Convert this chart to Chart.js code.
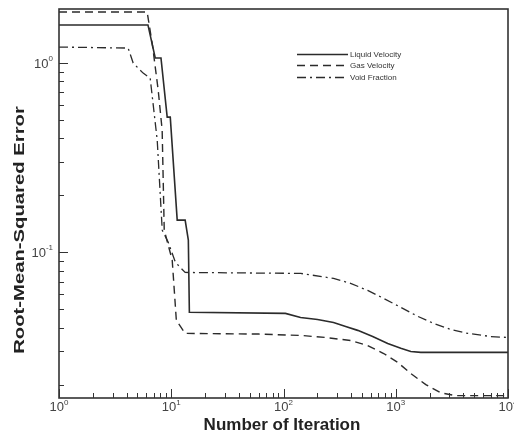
<!DOCTYPE html>
<html>
<head>
<meta charset="utf-8">
<script src="https://cdn.jsdelivr.net/npm/chart.js@4/dist/chart.umd.min.js"></script>
<style>
  html, body { margin: 0; padding: 0; background: #fff; }
  canvas { display: block; }
</style>
</head>
<body>
<canvas id="rmsChart" width="514" height="437"></canvas>
<script>
// convergence history, RMS error vs iteration count
const liquidIter = [1, 6.2, 7.2, 8.1, 9.2, 9.8, 11.3, 13.3, 14.2, 14.5, 104, 142, 201, 279, 358, 458, 623, 848, 1109, 1361, 1672, 10000];
const liquidRms = [1.59, 1.59, 1.063, 1.063, 0.518, 0.518, 0.148, 0.148, 0.116, 0.0482, 0.0476, 0.0453, 0.0442, 0.0426, 0.0406, 0.0387, 0.0359, 0.033, 0.0311, 0.0299, 0.0296, 0.0296];

const gasIter = [1, 6.1, 6.8, 7.65, 8.3, 8.66, 10.2, 11.1, 13.3, 60, 142, 237, 396, 562, 781, 1042, 1361, 1853, 2523, 3434, 10000];
const gasRms = [1.86, 1.86, 1.245, 0.72, 0.442, 0.131, 0.0909, 0.0437, 0.0373, 0.037, 0.0364, 0.0355, 0.0342, 0.0322, 0.0292, 0.0262, 0.0229, 0.02, 0.0181, 0.0175, 0.0175];

const voidIter = [1, 4.13, 4.58, 5.62, 6.49, 7.5, 8.31, 9.4, 10.9, 13.3, 142, 279, 396, 562, 781, 1109, 1571, 2183, 3099, 4395, 7047, 10000];
const voidRms = [1.215, 1.2, 1.0, 0.885, 0.833, 0.391, 0.131, 0.113, 0.0885, 0.0783, 0.0774, 0.0728, 0.0686, 0.0629, 0.0571, 0.0512, 0.0459, 0.0421, 0.0391, 0.0373, 0.0359, 0.0355];

const seriesNames = ['Liquid Velocity', 'Gas Velocity', 'Void Fraction'];

// decade ticks and their exponents
const xTickValues = [1, 10, 100, 1000, 10000];
const xTickExps = ['0', '1', '2', '3', '4'];
const yTickValues = [0.1, 1];
const yTickExps = ['-1', '0'];

const xMin = 1, xMax = 10000;
const yMin = 0.017, yMax = 1.93;

const lineColor = '#2b2b2b';

function toPoints(xs, ys) {
    return xs.map((x, i) => ({ x: x, y: ys[i] }));
}

function minorValues(lo, hi) {
    const out = [];
    for (let d = Math.pow(10, Math.floor(Math.log10(lo))); d < hi; d *= 10) {
        for (let k = 2; k <= 9; k++) {
            const v = k * d;
            if (v > lo && v < hi) out.push(v);
        }
    }
    return out;
}

// frame, inward ticks, power-of-ten labels, axis titles and the legend box
const decorations = {
    id: 'decorations',
    afterDraw(chart) {
        const ctx = chart.ctx;
        const area = chart.chartArea;
        const xs = chart.scales.x;
        const ys = chart.scales.y;

        ctx.save();
        ctx.strokeStyle = '#333';
        ctx.lineWidth = 1.6;
        ctx.strokeRect(area.left, area.top, area.right - area.left, area.bottom - area.top);

        ctx.lineWidth = 1;
        ctx.beginPath();
        xTickValues.forEach(v => {
            const px = Math.round(xs.getPixelForValue(v)) + 0.5;
            ctx.moveTo(px, area.bottom); ctx.lineTo(px, area.bottom - 9);
        });
        minorValues(xMin, xMax).forEach(v => {
            const px = Math.round(xs.getPixelForValue(v)) + 0.5;
            ctx.moveTo(px, area.bottom); ctx.lineTo(px, area.bottom - 5);
        });
        yTickValues.forEach(v => {
            const py = Math.round(ys.getPixelForValue(v)) + 0.5;
            ctx.moveTo(area.left, py); ctx.lineTo(area.left + 9, py);
        });
        minorValues(yMin, yMax).forEach(v => {
            const py = Math.round(ys.getPixelForValue(v)) + 0.5;
            ctx.moveTo(area.left, py); ctx.lineTo(area.left + 5, py);
        });
        ctx.stroke();

        // "10" with a raised exponent
        ctx.fillStyle = '#444';
        const base = '13px "Liberation Sans", Arial, sans-serif';
        const sup = '8px "Liberation Sans", Arial, sans-serif';
        ctx.textBaseline = 'alphabetic';
        xTickValues.forEach((v, i) => {
            const px = xs.getPixelForValue(v);
            ctx.font = base;
            const w1 = ctx.measureText('10').width;
            ctx.font = sup;
            const w2 = ctx.measureText(xTickExps[i]).width;
            const x0 = px - (w1 + w2) / 2;
            ctx.font = base;
            ctx.textAlign = 'left';
            ctx.fillText('10', x0, area.bottom + 13);
            ctx.font = sup;
            ctx.fillText(xTickExps[i], x0 + w1, area.bottom + 7);
        });
        yTickValues.forEach((v, i) => {
            const py = ys.getPixelForValue(v);
            ctx.font = sup;
            const w2 = ctx.measureText(yTickExps[i]).width;
            ctx.font = base;
            const w1 = ctx.measureText('10').width;
            const x1 = area.left - 6 - w2;
            ctx.textAlign = 'left';
            ctx.fillText('10', x1 - w1, py + 5);
            ctx.font = sup;
            ctx.fillText(yTickExps[i], x1, py - 2);
        });

        // axis titles
        ctx.fillStyle = '#222';
        ctx.font = 'bold 17px "Liberation Sans", Arial, sans-serif';
        ctx.textAlign = 'center';
        ctx.fillText('Number of Iteration', 282, 430);
        ctx.save();
        ctx.translate(24, 230);
        ctx.rotate(-Math.PI / 2);
        ctx.scale(1.35, 1);
        ctx.font = 'bold 15px "Liberation Sans", Arial, sans-serif';
        ctx.fillText('Root-Mean-Squared Error', 0, 0);
        ctx.restore();

        // legend
        const rows = [54, 65, 77];
        ctx.font = '8px "Liberation Sans", Arial, sans-serif';
        ctx.textAlign = 'left';
        chart.data.datasets.forEach((ds, i) => {
            ctx.strokeStyle = ds.borderColor;
            ctx.lineWidth = 1.3;
            ctx.setLineDash(ds.borderDash || []);
            ctx.beginPath();
            ctx.moveTo(297, rows[i] + 0.5);
            ctx.lineTo(348, rows[i] + 0.5);
            ctx.stroke();
            ctx.setLineDash([]);
            ctx.fillStyle = '#333';
            ctx.fillText(ds.label, 350, rows[i] + 3);
        });
        ctx.restore();
    }
};

new Chart(document.getElementById('rmsChart').getContext('2d'), {
    type: 'line',
    data: {
        datasets: [
            {
                label: seriesNames[0],
                data: toPoints(liquidIter, liquidRms),
                borderColor: lineColor,
                borderWidth: 1.6
            },
            {
                label: seriesNames[1],
                data: toPoints(gasIter, gasRms),
                borderColor: lineColor,
                borderWidth: 1.4,
                borderDash: [8, 5]
            },
            {
                label: seriesNames[2],
                data: toPoints(voidIter, voidRms),
                borderColor: lineColor,
                borderWidth: 1.3,
                borderDash: [9, 4, 2, 4]
            }
        ]
    },
    options: {
        responsive: false,
        animation: false,
        layout: { padding: { left: 59, right: 6, top: 9, bottom: 39 } },
        elements: {
            point: { radius: 0 },
            line: { tension: 0, fill: false }
        },
        plugins: { legend: { display: false }, tooltip: { enabled: false } },
        scales: {
            x: { type: 'logarithmic', display: false, min: xMin, max: xMax },
            y: { type: 'logarithmic', display: false, min: yMin, max: yMax }
        }
    },
    plugins: [decorations]
});
</script>
</body>
</html>
